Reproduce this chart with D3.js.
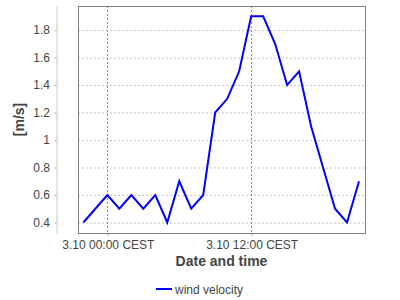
<!DOCTYPE html>
<html>
<head>
<meta charset="utf-8">
<script src="https://cdn.jsdelivr.net/npm/d3@7"></script>
<style>
  body { margin: 0; background: #fff; }
  svg { font-family: "Liberation Sans", Arial, sans-serif; }
  .tick text { fill: #444; font-size: 12px; }
</style>
</head>
<body>
<svg width="400" height="300"></svg>
<script>
// hourly wind velocity readings
const times = [
  '2012-10-02 22:00', '2012-10-02 23:00', '2012-10-03 00:00', '2012-10-03 01:00',
  '2012-10-03 02:00', '2012-10-03 03:00', '2012-10-03 04:00', '2012-10-03 05:00',
  '2012-10-03 06:00', '2012-10-03 07:00', '2012-10-03 08:00', '2012-10-03 09:00',
  '2012-10-03 10:00', '2012-10-03 11:00', '2012-10-03 12:00', '2012-10-03 13:00',
  '2012-10-03 14:00', '2012-10-03 15:00', '2012-10-03 16:00', '2012-10-03 17:00',
  '2012-10-03 18:00', '2012-10-03 19:00', '2012-10-03 20:00', '2012-10-03 21:00'
];
const velocity = [
  0.4, 0.5, 0.6, 0.5, 0.6, 0.5, 0.6, 0.4, 0.7, 0.5, 0.6, 1.2,
  1.3, 1.5, 1.9, 1.9, 1.7, 1.4, 1.5, 1.1, 0.8, 0.5, 0.4, 0.7
];
const xTickTimes = ['2012-10-03 00:00', '2012-10-03 12:00'];
const xTickLabels = ['3.10 00:00 CEST', '3.10 12:00 CEST'];
const yTicks = [0.4, 0.6, 0.8, 1, 1.2, 1.4, 1.6, 1.8];
const seriesName = 'wind velocity';

const parse = d3.timeParse('%Y-%m-%d %H:%M');
const data = times.map((t, i) => ({ time: parse(t), value: velocity[i] }));

const plot = { left: 78, top: 6, right: 365, bottom: 233 };
const svg = d3.select('svg');

// a little margin around the data like the original chart
const tExt = d3.extent(data, d => d.time);
const xscale = d3.scaleTime()
  .domain([d3.timeMinute.offset(tExt[0], -26.5), d3.timeMinute.offset(tExt[1], 30)])
  .range([plot.left, plot.right]);

const yscale = d3.scaleLinear()
  .domain([0.3236, 1.975])
  .range([plot.bottom, plot.top]);

const xticks = xTickTimes.map(parse);

// horizontal grid
svg.append('g').selectAll('line')
  .data(yTicks)
  .join('line')
  .attr('x1', plot.left).attr('x2', plot.right)
  .attr('y1', d => yscale(d) + 0.5).attr('y2', d => yscale(d) + 0.5)
  .attr('stroke', '#c4c4c4')
  .attr('stroke-dasharray', '2,2');

// vertical grid
svg.append('g').selectAll('line')
  .data(xticks)
  .join('line')
  .attr('x1', d => Math.round(xscale(d)) + 0.5).attr('x2', d => Math.round(xscale(d)) + 0.5)
  .attr('y1', plot.top).attr('y2', plot.bottom)
  .attr('stroke', '#8a8a8a')
  .attr('stroke-dasharray', '2,2');

// line
const line = d3.line()
  .x(d => xscale(d.time))
  .y(d => yscale(d.value));

svg.append('path')
  .datum(data)
  .attr('d', line)
  .attr('fill', 'none')
  .attr('stroke', '#0000ff')
  .attr('stroke-width', 2)
  .attr('stroke-linejoin', 'miter');

// plot border
svg.append('rect')
  .attr('x', plot.left + 0.5).attr('y', plot.top + 0.5)
  .attr('width', plot.right - plot.left).attr('height', plot.bottom - plot.top)
  .attr('fill', 'none')
  .attr('stroke', '#808080');

// y axis, offset from the plot
const yAxis = d3.axisLeft(yscale)
  .tickValues(yTicks)
  .tickFormat(d3.format('~g'))
  .tickSizeInner(2)
  .tickSizeOuter(0)
  .tickPadding(4.5);

const yAxisG = svg.append('g')
  .attr('transform', 'translate(56.5,0)')
  .call(yAxis);
yAxisG.select('.domain').attr('stroke', '#c8c8c8');
yAxisG.selectAll('.tick line').attr('stroke', '#aaa');

// x axis
const xAxis = d3.axisBottom(xscale)
  .tickValues(xticks)
  .tickFormat((d, i) => xTickLabels[i])
  .tickSizeInner(2)
  .tickSizeOuter(0)
  .tickPadding(4.5);

const xAxisG = svg.append('g')
  .attr('transform', `translate(0.5,${plot.bottom + 0.5})`)
  .call(xAxis);
xAxisG.select('.domain').remove();
xAxisG.selectAll('.tick line').attr('stroke', '#808080');

// axis titles
svg.append('text')
  .text('Date and time')
  .attr('x', (plot.left + plot.right) / 2)
  .attr('y', 266)
  .attr('text-anchor', 'middle')
  .attr('font-size', 14)
  .attr('font-weight', 'bold')
  .attr('fill', '#444');

svg.append('text')
  .text('[m/s]')
  .attr('transform', `translate(24,${(plot.top + plot.bottom) / 2}) rotate(-90)`)
  .attr('text-anchor', 'middle')
  .attr('font-size', 14)
  .attr('font-weight', 'bold')
  .attr('fill', '#444');

// legend
svg.append('line')
  .attr('x1', 156).attr('x2', 172)
  .attr('y1', 289).attr('y2', 289)
  .attr('stroke', '#0000ff')
  .attr('stroke-width', 2);

svg.append('text')
  .text(seriesName)
  .attr('x', 175)
  .attr('y', 293.5)
  .attr('font-size', 12)
  .attr('fill', '#444');
</script>
</body>
</html>
